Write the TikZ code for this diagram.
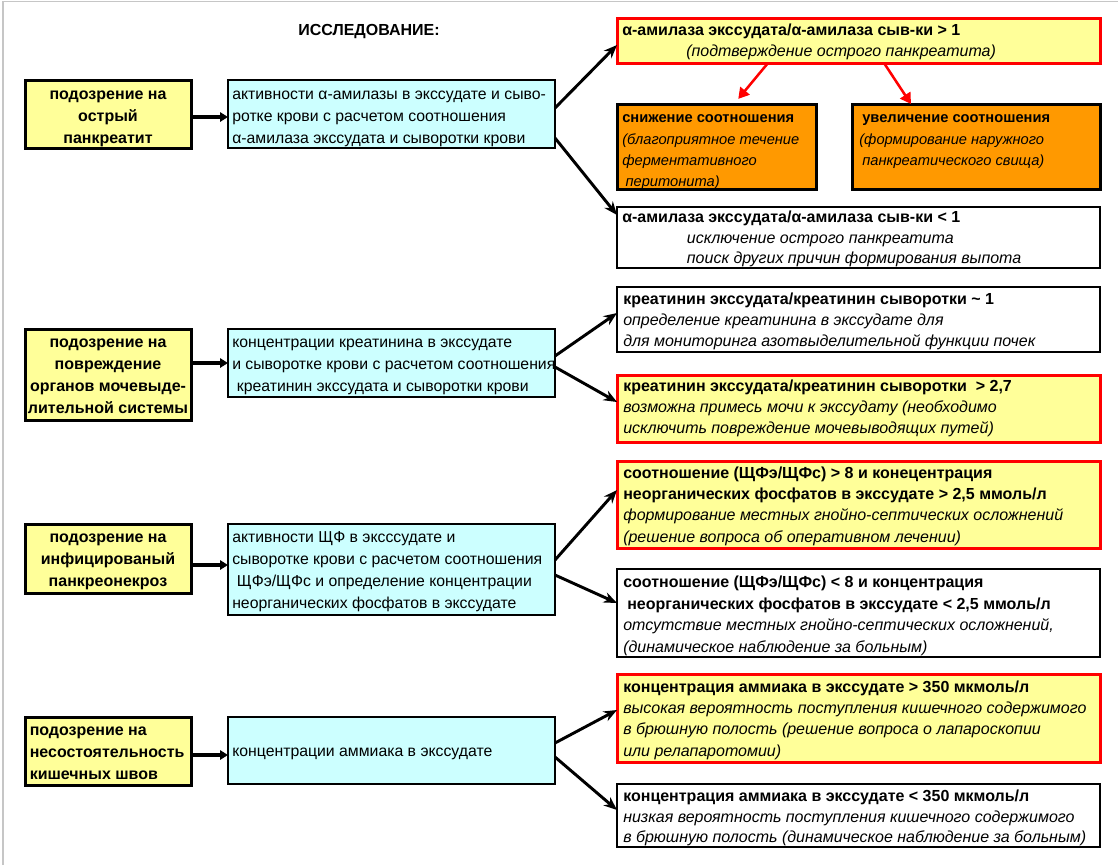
\documentclass[tikz,border=0pt]{standalone}
\usepackage{fontspec}
\setmainfont{Liberation Sans}
\usetikzlibrary{arrows.meta}
\definecolor{lyellow}{HTML}{FFFF99}
\definecolor{lcyan}{HTML}{CCFFFF}
\definecolor{orng}{HTML}{FF9900}
\definecolor{rred}{HTML}{FF0000}
\newcommand\bx[6]{\node[#6, minimum width={(#4-#2)*0.75pt}, minimum height={(#5-#3)*0.75pt}, anchor=north west] (#1) at (#2,#3) {};}
\tikzset{
  sbox/.style={draw, inner sep=0pt, outer sep=0pt},
  ybox/.style={sbox, fill=lyellow, line width=2.25pt},
  cbox/.style={sbox, fill=lcyan, line width=1.6pt},
  obox/.style={sbox, fill=orng, line width=2.25pt},
  rbox/.style={sbox, fill=lyellow, draw=rred, line width=2.25pt},
  wbox/.style={sbox, fill=white, line width=1.8pt},
  ltxt/.style={anchor=north west, inner sep=0pt, align=left, font=\fontsize{11.85}{16.5}\selectfont},
  ctxt/.style={anchor=north, inner sep=0pt, align=center, font=\bfseries\fontsize{12}{16.5}\selectfont},
  rtxt/.style={anchor=north west, inner sep=0pt, align=left, font=\fontsize{12}{16}\selectfont},
  otxt/.style={anchor=north west, inner sep=0pt, align=left, font=\fontsize{11}{16}\selectfont},
  fatarr/.style={line width=3pt, -{Triangle[length=6pt,width=7pt]}},
  blkarr/.style={line width=2.2pt, -{Stealth[length=10pt,width=8pt]}},
  redarr/.style={line width=1.9pt, draw=rred, -{Triangle[length=8pt,width=9pt]}, rred}
}
\begin{document}
\begin{tikzpicture}[x=0.75pt,y=-0.75pt]
\useasboundingbox (0,0) rectangle (1118,865);
\fill[white] (0,0) rectangle (1118,865);
\draw[gray!45, line width=0.9pt] (3,865) -- (3,1.2) -- (1118,1.2);

% title
\node[font=\bfseries\fontsize{12}{14}\selectfont, anchor=base] (title) at (369,35) {ИССЛЕДОВАНИЕ:};

% boxes
\bx{a1}{25}{80}{191}{148}{ybox}
\bx{b1}{228}{80}{555}{148}{cbox}
\bx{a2}{25}{329}{191}{420}{ybox}
\bx{b2}{228}{329}{555}{397}{cbox}
\bx{a3}{25}{524}{191}{593}{ybox}
\bx{b3}{228}{524}{555}{615}{cbox}
\bx{a4}{25}{717}{191}{785}{ybox}
\bx{b4}{228}{717}{555}{784}{cbox}

\bx{c1}{617}{18}{1100}{63}{rbox}
\bx{d1}{617}{104}{816}{189}{obox}
\bx{d2}{852}{104}{1100}{189}{obox}
\bx{e1}{617}{207}{1100}{268}{wbox}
\bx{f1}{617}{287}{1100}{352}{wbox}
\bx{f2}{617}{375}{1100}{442}{rbox}
\bx{g1}{617}{461}{1100}{548}{rbox}
\bx{g2}{617}{569}{1100}{657}{wbox}
\bx{h1}{617}{674}{1100}{762}{rbox}
\bx{h2}{617}{784}{1100}{847}{wbox}

% left texts
\node[ctxt] (ta1) at (108,84) {\strut подозрение на\\острый\\панкреатит};
\node[ltxt] (tb1) at (232,84) {\strut активности α-амилазы в экссудате и сыво-\\ротке крови с расчетом соотношения\\α-амилаза экссудата и сыворотки крови};
\node[ctxt] (ta2) at (108,332) {\strut подозрение на\\повреждение\\органов мочевыде-\\лительной системы};
\node[ltxt] (tb2) at (232,332) {\strut концентрации креатинина в экссудате\\и сыворотке крови с расчетом соотношения\\\hspace*{3.5pt}креатинин экссудата и сыворотки крови};
\node[ctxt] (ta3) at (108,527) {\strut подозрение на\\инфицированый\\панкреонекроз};
\node[ltxt] (tb3) at (232,527) {\strut активности ЩФ в эксссудате и\\сыворотке крови с расчетом соотношения\\\hspace*{3.5pt}ЩФэ/ЩФс и определение концентрации\\неорганических фосфатов в экссудате};
\node[ltxt, font=\bfseries\fontsize{12}{16.5}\selectfont] (ta4) at (29.5,720) {\strut подозрение на\\несостоятельность\\кишечных швов};
\node[ltxt] (tb4) at (232,741) {\strut концентрации аммиака в экссудате};

% right texts
\node[rtxt, font=\fontsize{12}{15.75}\selectfont] (tc1) at (622,21) {\strut\textbf{α-амилаза экссудата/α-амилаза сыв-ки > 1}\\\hspace*{48pt}\textit{(подтверждение острого панкреатита)}};
\node[otxt] (td1) at (622,107.5) {\strut\textbf{снижение соотношения}\\\textit{(благоприятное течение}\\\textit{ферментативного}\\\hspace*{2.5pt}\textit{перитонита)}};
\node[otxt] (td2) at (859,107.5) {\strut\hspace*{2.3pt}\textbf{увеличение соотношения}\\\textit{(формирование наружного}\\\hspace*{2.3pt}\textit{панкреатического свища)}};
\node[rtxt, font=\fontsize{12}{15.4}\selectfont] (te1) at (622,208) {\strut\textbf{α-амилаза экссудата/α-амилаза сыв-ки < 1}\\\hspace*{48.5pt}\textit{исключение острого панкреатита}\\\hspace*{48.5pt}\textit{поиск других причин формирования выпота}};
\node[rtxt] (tf1) at (623,289) {\strut\textbf{креатинин экссудата/креатинин сыворотки \textasciitilde\ 1}\\\textit{определение креатинина в экссудате для}\\\textit{для мониторинга азотвыделительной функции почек}};
\node[rtxt] (tf2) at (623,376) {\strut\textbf{креатинин экссудата/креатинин сыворотки \ > 2,7}\\\textit{возможна примесь мочи к экссудату (необходимо}\\\textit{исключить повреждение мочевыводящих путей)}};
\node[rtxt] (tg1) at (623,463) {\strut\textbf{соотношение (ЩФэ/ЩФс) > 8 и конецентрация}\\\textbf{неорганических фосфатов в экссудате > 2,5 ммоль/л}\\\textit{формирование местных гнойно-септических осложнений}\\\textit{(решение вопроса об оперативном лечении)}};
\node[rtxt, font=\fontsize{12}{16.3}\selectfont] (tg2) at (623,572) {\strut\textbf{соотношение (ЩФэ/ЩФс) < 8 и концентрация}\\\hspace*{3pt}\textbf{неорганических фосфатов в экссудате < 2,5 ммоль/л}\\\textit{отсутствие местных гнойно-септических осложнений,}\\\textit{(динамическое наблюдение за больным)}};
\node[rtxt] (th1) at (623,677) {\strut\textbf{концентрация аммиака в экссудате > 350 мкмоль/л}\\\textit{высокая вероятность поступления кишечного содержимого}\\\textit{в брюшную полость (решение вопроса о лапароскопии}\\\textit{или релапаротомии)}};
\node[rtxt, font=\fontsize{12}{15.4}\selectfont] (th2) at (623,787) {\strut\textbf{концентрация аммиака в экссудате < 350 мкмоль/л}\\\textit{низкая вероятность поступления кишечного содержимого}\\\textit{в брюшную полость (динамическое наблюдение за больным)}};

% connectors left
\draw[fatarr] (a1.east |- 0,117) -- (b1.west |- 0,117);
\draw[fatarr] (a2.east |- 0,363) -- (b2.west |- 0,363);
\draw[fatarr] (a3.east |- 0,565) -- (b3.west |- 0,565);
\draw[fatarr] (a4.east |- 0,755) -- (b4.west |- 0,755);

% connectors right
\draw[blkarr] (b1.east |- 0,108) -- (c1.west |- 0,45);
\draw[blkarr] (b1.east |- 0,138) -- (e1.west |- 0,215);
\draw[blkarr] (b2.east |- 0,356) -- (f1.west |- 0,313);
\draw[blkarr] (b2.east |- 0,367) -- (f2.west |- 0,402);
\draw[blkarr] (b3.east |- 0,560) -- (g1.west |- 0,490);
\draw[blkarr] (b3.east |- 0,575) -- (g2.west |- 0,603);
\draw[blkarr] (b4.east |- 0,743) -- (h1.west |- 0,710);
\draw[blkarr] (b4.east |- 0,757) -- (h2.west |- 0,810);

% red connectors
\draw[redarr, shorten >=5pt] (c1.south -| 768,0) -- (d1.north -| 734,0);
\draw[redarr] (c1.south -| 884,0) -- (d2.north -| 911,0);
\end{tikzpicture}
\end{document}
